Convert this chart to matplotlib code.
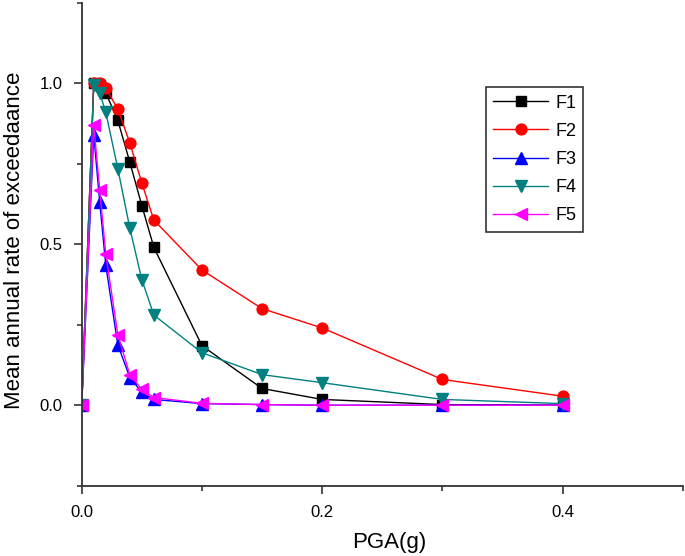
import matplotlib
matplotlib.use('Agg')
import matplotlib.pyplot as plt
from matplotlib.ticker import MultipleLocator, FormatStrFormatter

plt.rcParams['font.family'] = ['Liberation Sans', 'DejaVu Sans']

# PGA values (g)
pga = [0.0, 0.01, 0.015, 0.02, 0.03, 0.04, 0.05, 0.06, 0.1, 0.15, 0.2, 0.3, 0.4]

# mean annual rate of exceedance for each case
f1 = [0.0, 1.0, 0.995, 0.97, 0.885, 0.755, 0.62, 0.49, 0.185, 0.052, 0.018, 0.002, 0.0]
f2 = [0.0, 1.0, 1.0, 0.985, 0.92, 0.815, 0.69, 0.575, 0.42, 0.30, 0.24, 0.08, 0.028]
f3 = [0.0, 0.84, 0.63, 0.435, 0.188, 0.086, 0.04, 0.018, 0.005, 0.002, 0.0, 0.0, 0.0]
f4 = [0.0, 0.995, 0.97, 0.91, 0.735, 0.55, 0.39, 0.28, 0.163, 0.095, 0.07, 0.018, 0.005]
f5 = [0.0, 0.87, 0.668, 0.47, 0.219, 0.095, 0.049, 0.024, 0.006, 0.002, 0.0, 0.0, 0.0]

fig = plt.figure(figsize=(6.85, 5.56), dpi=100)
ax = fig.add_axes([0.1193, 0.1264, 0.8777, 0.8686])

ax.plot(pga, f1, color='black', marker='s', ms=7.2, lw=1, label='F1')
ax.plot(pga, f2, color='#FF0000', marker='o', ms=7.8, lw=1, label='F2')
ax.plot(pga, f3, color='#0000FF', marker='^', ms=8.5, lw=1, label='F3')
ax.plot(pga, f4, color='#008080', marker='v', ms=8.5, lw=1, label='F4')
ax.plot(pga, f5, color='#FF00FF', marker='<', ms=8.5, lw=1, label='F5')

ax.set_xlim(0, 0.5)
ax.set_ylim(-0.25, 1.25)
ax.xaxis.set_major_locator(MultipleLocator(0.2))
ax.xaxis.set_minor_locator(MultipleLocator(0.1))
ax.yaxis.set_major_locator(MultipleLocator(0.5))
ax.yaxis.set_minor_locator(MultipleLocator(0.25))
ax.xaxis.set_major_formatter(FormatStrFormatter('%.1f'))
ax.yaxis.set_major_formatter(FormatStrFormatter('%.1f'))

for s in ['top', 'right']:
    ax.spines[s].set_visible(False)
for s in ['left', 'bottom']:
    ax.spines[s].set_linewidth(1.3)
    ax.spines[s].set_color('#333333')

ax.tick_params(which='major', length=6, width=1.2, color='#333333', labelsize=12, pad=8)
ax.tick_params(which='minor', length=3.5, width=1.2, color='#333333')

ax.set_xlabel('PGA(g)', fontsize=16)
ax.set_ylabel('Mean annual rate of exceedaance', fontsize=16)
ax.xaxis.set_label_coords(0.511, -0.096)
ax.yaxis.set_label_coords(-0.094, 0.509)

# legend box roughly at x 486-583, y 87-235 px
leg = ax.legend(loc='upper left', bbox_to_anchor=(0.672, 0.825), fontsize=13,
                fancybox=False, edgecolor='#333333', framealpha=1,
                handlelength=3.05, handletextpad=0.4, labelspacing=0.62,
                borderpad=0.4, borderaxespad=0)
leg.get_frame().set_linewidth(1.2)

fig.savefig('out.png', dpi=100)
